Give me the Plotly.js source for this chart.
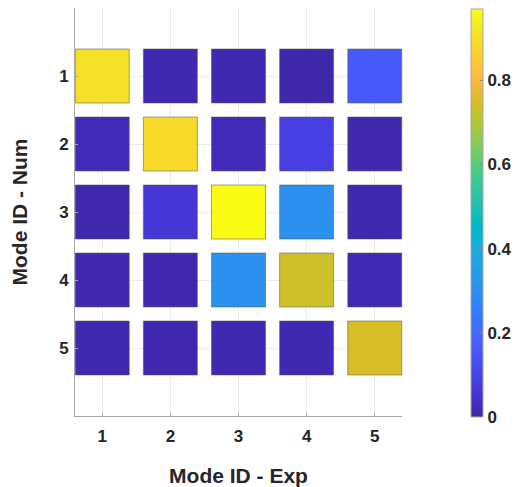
<!DOCTYPE html>
<html>
<head>
<meta charset="utf-8">
<script src="https://cdn.plot.ly/plotly-3.0.1.min.js"></script>
<style>html,body{margin:0;padding:0;background:#fff;}#chart{width:515px;height:487px;}</style>
</head>
<body>
<div id="chart"></div>
<script>
// Mode IDs
const expModes = [1, 2, 3, 4, 5];   // x axis: Mode ID - Exp
const numModes = [1, 2, 3, 4, 5];   // y axis: Mode ID - Num
// MAC values, one array per numerical mode (row)
const macNum1 = [0.900, 0.010, 0.010, 0.004, 0.160];
const macNum2 = [0.020, 0.886, 0.020, 0.087, 0.006];
const macNum3 = [0.008, 0.061, 0.968, 0.305, 0.010];
const macNum4 = [0.008, 0.006, 0.305, 0.734, 0.015];
const macNum5 = [0.010, 0.006, 0.010, 0.010, 0.746];
const macRows = [macNum1, macNum2, macNum3, macNum4, macNum5];
const colorTicks = [0, 0.2, 0.4, 0.6, 0.8];
const colorTickText = ['0', '0.2', '0.4', '0.6', '0.8'];

// parula colormap (64 entries)
const parulaRGB = [
[0.2422,0.1504,0.6603],[0.2504,0.1650,0.7076],[0.2578,0.1818,0.7511],[0.2647,0.1978,0.7952],
[0.2706,0.2147,0.8364],[0.2751,0.2342,0.8710],[0.2783,0.2559,0.8991],[0.2803,0.2782,0.9221],
[0.2813,0.3006,0.9414],[0.2810,0.3228,0.9579],[0.2795,0.3447,0.9717],[0.2760,0.3667,0.9829],
[0.2699,0.3892,0.9906],[0.2602,0.4123,0.9952],[0.2440,0.4358,0.9988],[0.2206,0.4603,0.9973],
[0.1963,0.4847,0.9892],[0.1834,0.5074,0.9798],[0.1786,0.5289,0.9682],[0.1764,0.5499,0.9520],
[0.1687,0.5703,0.9359],[0.1540,0.5902,0.9218],[0.1460,0.6091,0.9079],[0.1380,0.6276,0.8973],
[0.1248,0.6459,0.8883],[0.1113,0.6635,0.8763],[0.0952,0.6798,0.8598],[0.0689,0.6948,0.8394],
[0.0297,0.7082,0.8163],[0.0036,0.7203,0.7917],[0.0067,0.7312,0.7660],[0.0433,0.7411,0.7394],
[0.0964,0.7500,0.7120],[0.1408,0.7584,0.6842],[0.1717,0.7670,0.6554],[0.1938,0.7758,0.6251],
[0.2161,0.7843,0.5923],[0.2470,0.7918,0.5567],[0.2906,0.7973,0.5188],[0.3406,0.8008,0.4789],
[0.3909,0.8029,0.4354],[0.4456,0.8024,0.3909],[0.5044,0.7993,0.3480],[0.5616,0.7942,0.3045],
[0.6174,0.7876,0.2612],[0.6720,0.7793,0.2227],[0.7242,0.7698,0.1910],[0.7738,0.7598,0.1646],
[0.8203,0.7498,0.1535],[0.8634,0.7406,0.1596],[0.9035,0.7330,0.1774],[0.9393,0.7288,0.2100],
[0.9728,0.7298,0.2394],[0.9956,0.7434,0.2371],[0.9970,0.7659,0.2199],[0.9952,0.7893,0.2028],
[0.9892,0.8136,0.1885],[0.9786,0.8386,0.1766],[0.9676,0.8639,0.1643],[0.9610,0.8890,0.1537],
[0.9597,0.9135,0.1423],[0.9628,0.9373,0.1265],[0.9691,0.9606,0.1064],[0.9769,0.9839,0.0805]
];
const parula = parulaRGB.map((c, i) => [i / (parulaRGB.length - 1),
  'rgb(' + c.map(v => Math.round(v * 255)).join(',') + ')']);

const xs = [], ys = [], cs = [];
numModes.forEach((n, r) => {
  expModes.forEach((e, c) => {
    xs.push(e); ys.push(n); cs.push(macRows[r][c]);
  });
});

const fontFam = '"Liberation Sans", Arial, Helvetica, sans-serif';
const txtCol = '#262626';
const axCol = '#a8a8a8';

const trace = {
  type: 'scatter', mode: 'markers', x: xs, y: ys, cliponaxis: false,
  hoverinfo: 'x+y+text', text: cs.map(v => v.toFixed(3)),
  marker: {
    symbol: 'square', size: 54, color: cs,
    colorscale: parula, cmin: 0, cmax: Math.max(...cs),
    line: {width: 1, color: 'rgba(90,90,90,0.55)'},
    showscale: true,
    colorbar: {
      thickness: 11.5, thicknessmode: 'pixels',
      len: 408, lenmode: 'pixels',
      x: 1.211, xanchor: 'left', xpad: 0,
      y: 0.997, yanchor: 'top', ypad: 0,
      outlinewidth: 1, outlinecolor: axCol,
      tickmode: 'array', tickvals: colorTicks, ticktext: colorTickText,
      ticks: 'inside', ticklen: 3, tickcolor: '#888',
      tickfont: {family: fontFam, size: 17, color: txtCol, weight: 700}
    }
  }
};

const axisCommon = {
  tickmode: 'array',
  showgrid: true, gridcolor: '#ececec', gridwidth: 1,
  zeroline: false, showline: true, linecolor: axCol, linewidth: 1,
  ticks: 'inside', ticklen: 3, tickcolor: axCol,
  tickfont: {family: fontFam, size: 17, color: txtCol, weight: 700},
  fixedrange: true, automargin: false
};

const layout = {
  width: 515, height: 487,
  margin: {l: 75, r: 113, t: 8, b: 71, pad: 0, autoexpand: false},
  paper_bgcolor: '#ffffff', plot_bgcolor: '#ffffff',
  showlegend: false,
  font: {family: fontFam, color: txtCol},
  xaxis: Object.assign({}, axisCommon, {
    range: [0.6, 5.4], tickvals: expModes, ticktext: expModes.map(String),
    ticklabelstandoff: 5,
    title: {text: 'Mode ID - Exp', standoff: 23,
      font: {family: fontFam, size: 21, color: txtCol, weight: 700}}
  }),
  yaxis: Object.assign({}, axisCommon, {
    range: [6, 0], tickvals: numModes, ticktext: numModes.map(String),
    ticklabelstandoff: 2,
    title: {text: 'Mode ID - Num', standoff: 25,
      font: {family: fontFam, size: 21, color: txtCol, weight: 700}}
  })
};

Plotly.newPlot('chart', [trace], layout, {displayModeBar: false, staticPlot: true});
</script>
</body>
</html>
